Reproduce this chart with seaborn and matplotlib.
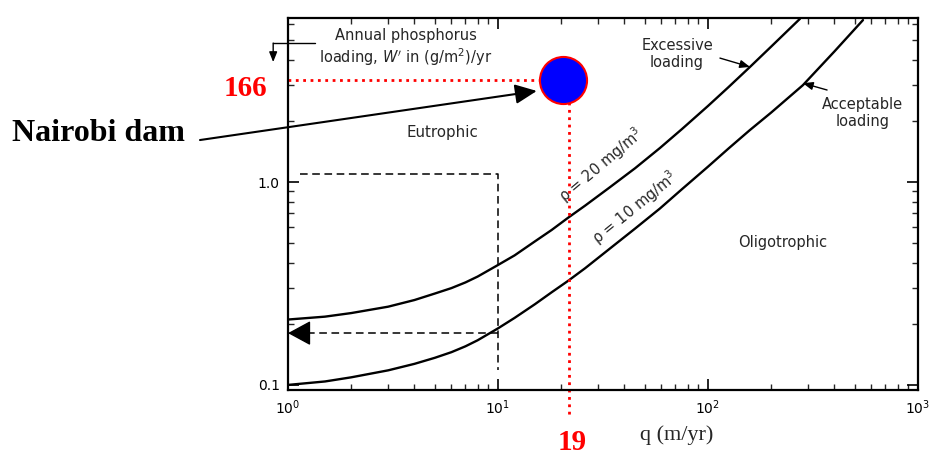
import numpy as np
import pandas as pd
import matplotlib
matplotlib.use("Agg")
import matplotlib.pyplot as plt
from matplotlib.ticker import FixedLocator, FixedFormatter, LogLocator, NullFormatter
import seaborn as sns

# critical loading curves: q (m/yr) -> W' (g/m2/yr)
q_excessive = [1, 1.5, 2, 3, 4, 5, 6, 7, 8, 10, 12, 15, 18, 21.5, 26, 34, 45, 59,
               75, 100, 125, 158, 200, 274]
w_excessive = [0.21, 0.217, 0.226, 0.243, 0.262, 0.282, 0.30, 0.32, 0.342, 0.39,
               0.435, 0.51, 0.58, 0.665, 0.765, 0.94, 1.17, 1.47, 1.82, 2.37, 2.93,
               3.68, 4.65, 6.37]

q_acceptable = [1, 1.5, 2, 3, 4, 5, 6, 7, 8, 10, 12, 15, 18, 21.5, 26, 35, 45, 59,
                75, 100, 125, 158, 200, 283, 400, 547]
w_acceptable = [0.10, 0.104, 0.109, 0.118, 0.127, 0.136, 0.145, 0.155, 0.166, 0.19,
                0.214, 0.25, 0.286, 0.325, 0.376, 0.48, 0.59, 0.74, 0.92, 1.19,
                1.46, 1.8, 2.2, 3.0, 4.4, 6.28]

# Nairobi dam point and its guide lines
nairobi_q = [20.4]
nairobi_w = [3.18]
guide_q = 21.8

# dashed reading example
example_box_q = [1.14, 10, 10]
example_box_w = [1.095, 1.095, 0.119]
example_read_w = 0.18

x_ticks = [1, 10, 100, 1000]
y_ticks = [0.1, 1.0]
y_tick_labels = ["0.1", "1.0"]

curves = pd.DataFrame({
    "q": q_excessive + q_acceptable,
    "W": w_excessive + w_acceptable,
    "curve": ["20 mg/m3"] * len(q_excessive) + ["10 mg/m3"] * len(q_acceptable),
})

sns.set_theme(style="ticks")
plt.rcParams["font.family"] = ["DejaVu Sans"]
plt.rcParams["mathtext.fontset"] = "dejavusans"

fig = plt.figure(figsize=(9.38, 4.61), dpi=100)
ax = fig.add_axes([288 / 938, 71 / 461, 630 / 938, 372 / 461])

sns.lineplot(data=curves, x="q", y="W", hue="curve",
             palette=["black", "black"], linewidth=1.7, legend=False, ax=ax)

ax.set_xscale("log")
ax.set_yscale("log")
ax.set_xlim(1, 1000)
ax.set_ylim(0.0944, 6.43)

ax.xaxis.set_major_locator(FixedLocator(x_ticks))
ax.xaxis.set_minor_locator(LogLocator(base=10, subs=range(2, 10)))
ax.xaxis.set_minor_formatter(NullFormatter())
ax.yaxis.set_major_locator(FixedLocator(y_ticks))
ax.yaxis.set_major_formatter(FixedFormatter(y_tick_labels))
ax.yaxis.set_minor_locator(LogLocator(base=10, subs=range(2, 10)))
ax.yaxis.set_minor_formatter(NullFormatter())
ax.tick_params(which="major", direction="in", length=8, width=1.2,
               top=True, right=True, bottom=True, left=True,
               labelsize=10, pad=6, colors="black")
ax.tick_params(which="minor", direction="in", length=4.5, width=1.0,
               top=True, right=True, bottom=True, left=True)
for s in ax.spines.values():
    s.set_linewidth(1.6)
    s.set_color("black")
ax.set_xlabel("")
ax.set_ylabel("")

# dashed reading example
ax.plot(example_box_q, example_box_w, color="black", lw=1.1, ls="--", dashes=(5, 3))
ax.plot([10, 1.15], [example_read_w, example_read_w], color="black", lw=1.1, ls="--", dashes=(5, 3))
ax.annotate("", xy=(1, example_read_w), xytext=(1.25, example_read_w),
            arrowprops=dict(arrowstyle="-|>,head_length=1.2,head_width=0.65",
                            color="black", lw=1, shrinkA=0, shrinkB=0))

# red guides and Nairobi dam point
ax.plot([1, nairobi_q[0]], [nairobi_w[0], nairobi_w[0]], color="red", ls=":", lw=2)
ax.plot([guide_q, guide_q], [nairobi_w[0], 0.071], color="red", ls=":", lw=2, clip_on=False)
ax.scatter(nairobi_q, nairobi_w, s=1150, color="blue", edgecolors="red",
           linewidths=1.5, zorder=5, clip_on=False)

serif = ["Liberation Serif", "DejaVu Serif"]
ax.text(0.624, 2.9, "166", color="red", fontsize=21, fontweight="bold",
        family=serif, ha="center", va="center")
ax.text(22.5, 0.0518, "19", color="red", fontsize=21, fontweight="bold",
        family=serif, ha="center", va="center")
ax.text(0.125, 1.74, "Nairobi dam", color="black", fontsize=23, fontweight="bold",
        family=serif, ha="center", va="center")
ax.annotate("", xy=(15.3, 2.81), xytext=(0.381, 1.61), xycoords="data",
            arrowprops=dict(arrowstyle="-|>,head_length=1.1,head_width=0.5",
                            color="black", lw=1.5, shrinkA=0, shrinkB=0),
            annotation_clip=False)
ax.text(71.2, 0.0567, "q (m/yr)", fontsize=16, family=serif,
        ha="center", va="center")

# labels inside the chart
ax.text(3.65, 4.57, "Annual phosphorus\nloading, $W'$ in (g/m$^2$)/yr", fontsize=10.5,
        ha="center", va="center", linespacing=1.2)
ax.plot([1.345, 0.85], [4.84, 4.84], color="black", lw=1, clip_on=False)
ax.annotate("", xy=(0.85, 3.9), xytext=(0.85, 4.84),
            arrowprops=dict(arrowstyle="-|>,head_length=0.5,head_width=0.2",
                            color="black", lw=1, shrinkA=0, shrinkB=0),
            annotation_clip=False)
ax.text(5.41, 1.76, "Eutrophic", fontsize=10.8, ha="center", va="center")
ax.text(227.6, 0.506, "Oligotrophic", fontsize=10.5, ha="center", va="center")
ax.text(71.2, 4.27, "Excessive\nloading", fontsize=10.5, ha="center", va="center",
        linespacing=1.15)
ax.annotate("", xy=(158.5, 3.69), xytext=(114, 4.08),
            arrowprops=dict(arrowstyle="-|>,head_length=0.5,head_width=0.2",
                            color="black", lw=1, shrinkA=0, shrinkB=0))
ax.text(545, 2.19, "Acceptable\nloading", fontsize=10.5, ha="center", va="center",
        linespacing=1.15)
ax.annotate("", xy=(283, 3.07), xytext=(369, 2.84),
            arrowprops=dict(arrowstyle="-|>,head_length=0.5,head_width=0.2",
                            color="black", lw=1, shrinkA=0, shrinkB=0))
ax.text(31, 1.21, "ρ = 20 mg/m$^3$", fontsize=10.5, rotation=40,
        ha="center", va="center", rotation_mode="anchor")
ax.text(45, 0.745, "ρ = 10 mg/m$^3$", fontsize=10.5, rotation=39,
        ha="center", va="center", rotation_mode="anchor")

fig.savefig("out.png", dpi=100, facecolor="white")
plt.close(fig)
